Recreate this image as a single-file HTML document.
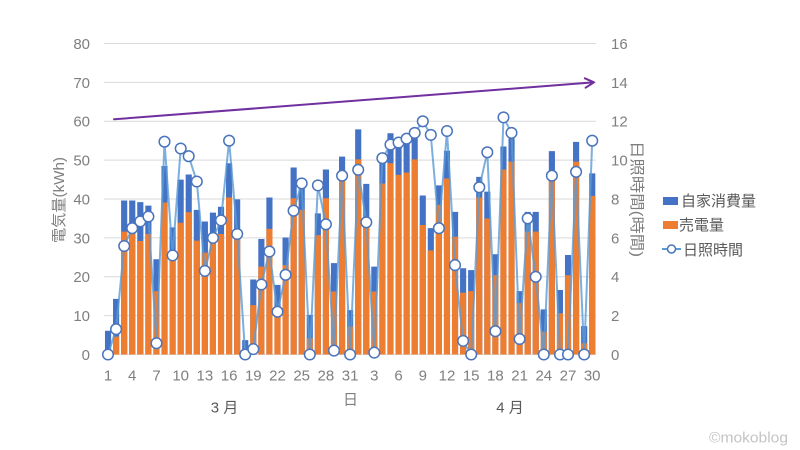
<!DOCTYPE html>
<html><head><meta charset="utf-8"><style>
html,body{margin:0;padding:0;background:#fff;}
svg{display:block;}
text{font-family:"Liberation Sans","Noto Sans CJK JP",sans-serif;}
</style></head><body>
<svg width="800" height="450" viewBox="0 0 800 450" xmlns="http://www.w3.org/2000/svg">
<rect width="800" height="450" fill="#fff"/>
<defs>
<marker id="mk" markerUnits="userSpaceOnUse" markerWidth="16" markerHeight="16" refX="8" refY="8" overflow="visible">
<circle cx="8" cy="8" r="5.3" fill="#fff" stroke="#4a74bc" stroke-width="1.5"/>
</marker>
</defs>
<g stroke="#d9d9d9" stroke-width="1">
<path d="M104 43.5H596M104 82.4H596M104 121.25H596M104 160.1H596M104 199H596M104 237.9H596M104 276.75H596M104 315.6H596M104 354.5H596"/>
</g>
<g transform="translate(104,354.5) scale(8.07,-3.8875)">
<path fill="#4472c4" d="M0.12 0h.76v6.1h-.76zM1.12 0h.76v14.3h-.76zM2.12 0h.76v39.6h-.76zM3.12 0h.76v39.6h-.76zM4.12 0h.76v39.2h-.76zM5.12 0h.76v38.3h-.76zM6.12 0h.76v24.5h-.76zM7.12 0h.76v48.5h-.76zM8.12 0h.76v32.7h-.76zM9.12 0h.76v45h-.76zM10.12 0h.76v46.3h-.76zM11.12 0h.76v37.2h-.76zM12.12 0h.76v34.2h-.76zM13.12 0h.76v36.5h-.76zM14.12 0h.76v38h-.76zM15.12 0h.76v49.2h-.76zM16.12 0h.76v39.9h-.76zM17.12 0h.76v3.7h-.76zM18.12 0h.76v19.3h-.76zM19.12 0h.76v29.7h-.76zM20.12 0h.76v40.4h-.76zM21.12 0h.76v17.9h-.76zM22.12 0h.76v30.1h-.76zM23.12 0h.76v48.1h-.76zM24.12 0h.76v43.2h-.76zM25.12 0h.76v10.2h-.76zM26.12 0h.76v36.3h-.76zM27.12 0h.76v47.6h-.76zM28.12 0h.76v23.5h-.76zM29.12 0h.76v50.9h-.76zM30.12 0h.76v11.4h-.76zM31.12 0h.76v57.9h-.76zM32.12 0h.76v43.9h-.76zM33.12 0h.76v22.6h-.76zM34.12 0h.76v49.6h-.76zM35.12 0h.76v56.9h-.76zM36.12 0h.76v54.7h-.76zM37.12 0h.76v55.6h-.76zM38.12 0h.76v56.9h-.76zM39.12 0h.76v40.9h-.76zM40.12 0h.76v32.5h-.76zM41.12 0h.76v43.5h-.76zM42.12 0h.76v52.4h-.76zM43.12 0h.76v36.7h-.76zM44.12 0h.76v22.2h-.76zM45.12 0h.76v21.7h-.76zM46.12 0h.76v45.7h-.76zM47.12 0h.76v41.9h-.76zM48.12 0h.76v25.8h-.76zM49.12 0h.76v53.5h-.76zM50.12 0h.76v55.6h-.76zM51.12 0h.76v16.3h-.76zM52.12 0h.76v36.7h-.76zM53.12 0h.76v36.7h-.76zM54.12 0h.76v11.6h-.76zM55.12 0h.76v52.3h-.76zM56.12 0h.76v16.6h-.76zM57.12 0h.76v25.6h-.76zM58.12 0h.76v54.7h-.76zM59.12 0h.76v7.3h-.76zM60.12 0h.76v46.6h-.76z"/>
<path fill="#ed7d31" d="M1.12 0h.76v4.6h-.76zM2.12 0h.76v31.6h-.76zM3.12 0h.76v31h-.76zM4.12 0h.76v29.2h-.76zM5.12 0h.76v31h-.76zM6.12 0h.76v16.3h-.76zM7.12 0h.76v39.1h-.76zM8.12 0h.76v25h-.76zM9.12 0h.76v33.9h-.76zM10.12 0h.76v36.6h-.76zM11.12 0h.76v29.3h-.76zM12.12 0h.76v26.2h-.76zM13.12 0h.76v30h-.76zM14.12 0h.76v31h-.76zM15.12 0h.76v40.4h-.76zM16.12 0h.76v31h-.76zM17.12 0h.76v0.3h-.76zM18.12 0h.76v12.7h-.76zM19.12 0h.76v22.6h-.76zM20.12 0h.76v32.3h-.76zM21.12 0h.76v11.4h-.76zM22.12 0h.76v23h-.76zM23.12 0h.76v40.2h-.76zM24.12 0h.76v37.2h-.76zM25.12 0h.76v4.2h-.76zM26.12 0h.76v30.7h-.76zM27.12 0h.76v40.2h-.76zM28.12 0h.76v16.2h-.76zM29.12 0h.76v45h-.76zM30.12 0h.76v7.2h-.76zM31.12 0h.76v50.2h-.76zM32.12 0h.76v34.6h-.76zM33.12 0h.76v16.2h-.76zM34.12 0h.76v44h-.76zM35.12 0h.76v49.2h-.76zM36.12 0h.76v46.2h-.76zM37.12 0h.76v46.8h-.76zM38.12 0h.76v50.2h-.76zM39.12 0h.76v33.3h-.76zM40.12 0h.76v26.8h-.76zM41.12 0h.76v38.5h-.76zM42.12 0h.76v45.3h-.76zM43.12 0h.76v30.3h-.76zM44.12 0h.76v15.9h-.76zM45.12 0h.76v16.3h-.76zM46.12 0h.76v40.4h-.76zM47.12 0h.76v35h-.76zM48.12 0h.76v20.4h-.76zM49.12 0h.76v47.6h-.76zM50.12 0h.76v49.6h-.76zM51.12 0h.76v13.2h-.76zM52.12 0h.76v31.6h-.76zM53.12 0h.76v31.6h-.76zM54.12 0h.76v5.9h-.76zM55.12 0h.76v47h-.76zM56.12 0h.76v10.6h-.76zM57.12 0h.76v20.4h-.76zM58.12 0h.76v49.6h-.76zM59.12 0h.76v2.9h-.76zM60.12 0h.76v40.8h-.76z"/>
</g>
<polyline fill="none" stroke="#5b9bd5" stroke-opacity="0.8" stroke-width="2" stroke-linejoin="round" marker-start="url(#mk)" marker-mid="url(#mk)" marker-end="url(#mk)" points="108,354.5 116.1,329.2 124.2,246 132.2,228.2 140.3,221.4 148.4,216.5 156.5,343.2 164.5,141.7 172.6,255.4 180.7,148.5 188.7,156.2 196.8,181.5 204.9,270.9 213,237.9 221,220.4 229.1,140.7 237.2,234 245.2,354.5 253.3,349.1 261.4,284.5 269.4,251.5 277.5,311.7 285.6,274.8 293.6,210.7 301.7,183.4 309.8,354.5 317.9,185.4 325.9,224.3 334,350.6 342.1,175.7 350.1,354.5 358.2,169.8 366.3,222.3 374.3,352.6 382.4,158.2 390.5,144.6 398.6,142.6 406.6,138.7 414.7,132.9 422.8,121.3 430.8,134.9 438.9,228.2 447,131 455,265.1 463.1,340.9 471.2,354.5 479.3,187.3 487.3,152.3 495.4,331.2 503.5,117.4 511.5,132.9 519.6,339 527.7,218.4 535.7,276.8 543.8,354.5 551.9,175.7 560,354.5 568,354.5 576.1,171.8 584.2,354.5 592.2,140.7"/>
<line x1="114" y1="119.3" x2="593" y2="82.4" stroke="#7030a0" stroke-width="2" stroke-linecap="round"/>
<polyline points="584.8,78.3 594,82.3 585.6,87.7" fill="none" stroke="#7030a0" stroke-width="2" stroke-linecap="round" stroke-linejoin="round"/>
<g font-size="15" fill="#7f7f7f" text-anchor="end">
<text x="90" y="49">80</text>
<text x="90" y="88">70</text>
<text x="90" y="126.5">60</text>
<text x="90" y="165.5">50</text>
<text x="90" y="204.5">40</text>
<text x="90" y="243.5">30</text>
<text x="90" y="282">20</text>
<text x="90" y="321">10</text>
<text x="90" y="360">0</text>
</g>
<g font-size="15" fill="#7f7f7f" text-anchor="start">
<text x="611" y="49">16</text>
<text x="611" y="88">14</text>
<text x="611" y="126.5">12</text>
<text x="611" y="165.5">10</text>
<text x="611" y="204.5">8</text>
<text x="611" y="243.5">6</text>
<text x="611" y="282">4</text>
<text x="611" y="321">2</text>
<text x="611" y="360">0</text>
</g>
<g font-size="15" fill="#7f7f7f" text-anchor="middle">
<text x="108" y="380.5">1</text>
<text x="132.2" y="380.5">4</text>
<text x="156.5" y="380.5">7</text>
<text x="180.7" y="380.5">10</text>
<text x="204.9" y="380.5">13</text>
<text x="229.1" y="380.5">16</text>
<text x="253.3" y="380.5">19</text>
<text x="277.5" y="380.5">22</text>
<text x="301.7" y="380.5">25</text>
<text x="325.9" y="380.5">28</text>
<text x="350.1" y="380.5">31</text>
<text x="374.3" y="380.5">3</text>
<text x="398.5" y="380.5">6</text>
<text x="422.8" y="380.5">9</text>
<text x="447" y="380.5">12</text>
<text x="471.2" y="380.5">15</text>
<text x="495.4" y="380.5">18</text>
<text x="519.6" y="380.5">21</text>
<text x="543.8" y="380.5">24</text>
<text x="568" y="380.5">27</text>
<text x="592.2" y="380.5">30</text>
</g>
<g font-size="15" fill="#595959" text-anchor="middle">
<text x="224.5" y="412.5">3 月</text>
<text x="510" y="412.5">4 月</text>
<text x="350.5" y="404.5" fill="#7f7f7f">日</text>
</g>
<text transform="translate(64,200) rotate(-90)" font-size="15" fill="#7f7f7f" text-anchor="middle" textLength="86" lengthAdjust="spacingAndGlyphs">電気量(kWh)</text>
<text transform="translate(632,199) rotate(90)" font-size="15" fill="#7f7f7f" text-anchor="middle" textLength="116" lengthAdjust="spacingAndGlyphs">日照時間(時間)</text>
<rect x="663" y="197" width="15" height="8" fill="#4472c4"/>
<text x="681" y="206" font-size="15" fill="#595959">自家消費量</text>
<rect x="663" y="221" width="15" height="8" fill="#ed7d31"/>
<text x="679" y="230" font-size="15" fill="#595959">売電量</text>
<line x1="662" y1="249" x2="681" y2="249" stroke="#5b9bd5" stroke-width="2"/>
<circle cx="671.5" cy="249" r="4" fill="#fff" stroke="#4a74bc" stroke-width="1.5"/>
<text x="683" y="255" font-size="15" fill="#595959">日照時間</text>
<text x="709" y="442.5" font-size="15" fill="#c4c4c4" textLength="79" lengthAdjust="spacingAndGlyphs">©mokoblog</text>
</svg>
</body></html>
